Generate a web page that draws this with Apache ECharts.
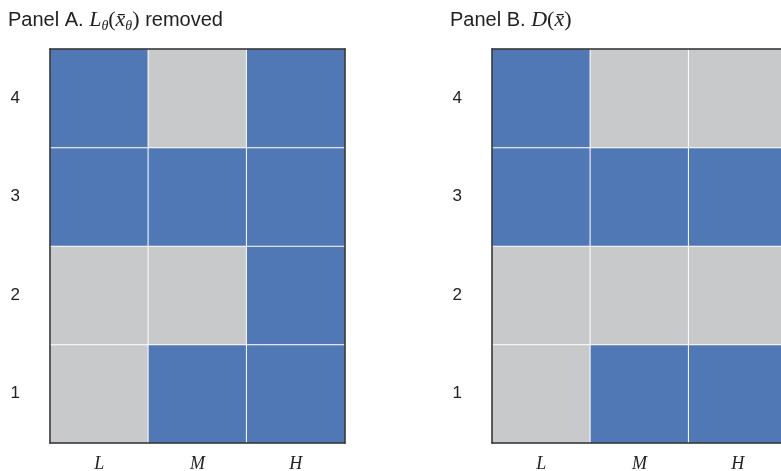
<!DOCTYPE html>
<html>
<head>
<meta charset="utf-8">
<script src="https://cdn.jsdelivr.net/npm/echarts@6/dist/echarts.min.js"></script>
<style>html,body{margin:0;padding:0;background:#fff;overflow:hidden;}#c{width:800px;height:471px;}</style>
</head>
<body>
<div id="c"></div>
<script>
const xCategories = ['L', 'M', 'H'];
const yCategories = ['1', '2', '3', '4'];
// 1 = blue, 0 = gray; rows listed from 1 (bottom) to 4 (top), columns L, M, H
const panelA = [
  [0, 1, 1],
  [0, 0, 1],
  [1, 1, 1],
  [1, 0, 1]
];
const panelB = [
  [0, 1, 1],
  [0, 0, 0],
  [1, 1, 1],
  [1, 0, 0]
];

function toCells(m) {
  const out = [];
  m.forEach((row, yi) => row.forEach((v, xi) => out.push([xi, yi, v])));
  return out;
}

const chart = echarts.init(document.getElementById('c'), null, {renderer: 'canvas'});
const grids = [
  {left: 50, top: 49, width: 295, height: 394, containLabel: false, outerBoundsMode: 'none'},
  {left: 492, top: 49, width: 295, height: 394, containLabel: false, outerBoundsMode: 'none'}
];
const xAxes = [], yAxes = [];
[0, 1].forEach(g => {
  xAxes.push({type: 'category', data: xCategories, gridIndex: g, position: 'bottom', z: 10,
    axisLine: {show: true, lineStyle: {color: '#2b2b2b', width: 1.5}},
    axisTick: {show: false}, splitLine: {show: false},
    axisLabel: {margin: 12, color: '#222', fontFamily: 'Liberation Serif', fontStyle: 'italic', fontSize: 18}});
  xAxes.push({type: 'category', data: xCategories, gridIndex: g, position: 'top', z: 10,
    axisLine: {show: true, lineStyle: {color: '#2b2b2b', width: 1.5}},
    axisTick: {show: false}, axisLabel: {show: false}});
  yAxes.push({type: 'category', data: yCategories, gridIndex: g, position: 'left', z: 10,
    axisLine: {show: true, lineStyle: {color: '#2b2b2b', width: 1.5}},
    axisTick: {show: false}, splitLine: {show: false},
    axisLabel: {margin: 30, color: '#222', fontFamily: 'Liberation Sans', fontSize: 17}});
  yAxes.push({type: 'category', data: yCategories, gridIndex: g, position: 'right', z: 10,
    axisLine: {show: true, lineStyle: {color: '#2b2b2b', width: 1.5}},
    axisTick: {show: false}, axisLabel: {show: false}});
});

const rich = {
  a: {fontFamily: 'Liberation Sans', fontWeight: 'normal', fontSize: 20, color: '#222', lineHeight: 26},
  i: {fontFamily: 'Liberation Serif', fontWeight: 'normal', fontStyle: 'italic', fontSize: 22, color: '#222', lineHeight: 26},
  r: {fontFamily: 'Liberation Serif', fontWeight: 'normal', fontSize: 22, color: '#222', lineHeight: 26},
  s: {fontFamily: 'Liberation Serif', fontWeight: 'normal', fontStyle: 'italic', fontSize: 14, color: '#222', lineHeight: 26, verticalAlign: 'bottom'}
};

chart.setOption({
  animation: false,
  backgroundColor: '#fff',
  title: [
    {left: 3, top: 2, text: '{a|Panel A. }{i|L}{s|θ}{r|(}{i|x\u0304}{s|θ}{r|)}{a| removed}', textStyle: {fontWeight: 'normal', rich: rich}},
    {left: 445, top: 2, text: '{a|Panel B. }{i|D}{r|(}{i|x\u0304}{r|)}', textStyle: {fontWeight: 'normal', rich: rich}}
  ],
  grid: grids,
  xAxis: xAxes,
  yAxis: yAxes,
  visualMap: {show: false, type: 'piecewise', dimension: 2, seriesIndex: [0, 1],
    pieces: [{value: 0, color: '#c8c9cb'}, {value: 1, color: '#4f78b5'}]},
  series: [
    {type: 'heatmap', xAxisIndex: 0, yAxisIndex: 0, data: toCells(panelA),
      itemStyle: {borderColor: '#ffffff', borderWidth: 1}},
    {type: 'heatmap', xAxisIndex: 2, yAxisIndex: 2, data: toCells(panelB),
      itemStyle: {borderColor: '#ffffff', borderWidth: 1}}
  ]
});
</script>
</body>
</html>
